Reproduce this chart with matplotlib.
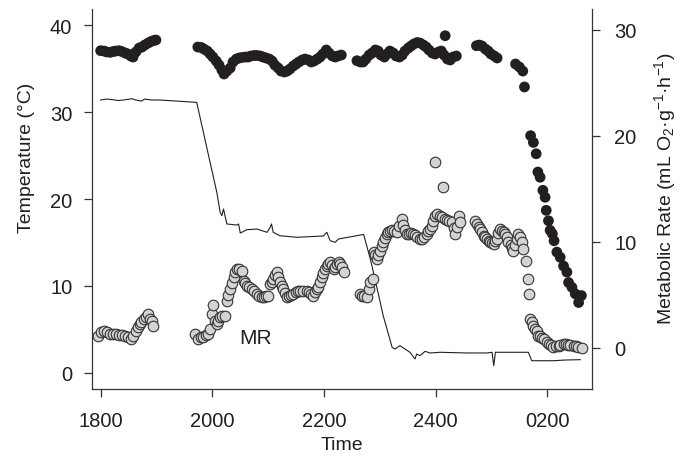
import matplotlib
matplotlib.use('Agg')
import matplotlib.pyplot as plt

plt.rcParams['font.family'] = ['Liberation Sans', 'DejaVu Sans']
plt.rcParams['mathtext.fontset'] = 'custom'
plt.rcParams['mathtext.rm'] = 'Liberation Sans'
plt.rcParams['mathtext.it'] = 'Liberation Sans:italic'

# Time in hours after midnight of the first day (26 = 0200 next day)
time_ticks = [18, 20, 22, 24, 26]
time_labels = ['1800', '2000', '2200', '2400', '0200']

# Ambient temperature (line, left axis)
ta_time = [18.00, 18.11, 18.23, 18.31, 18.41, 18.49, 18.56, 18.63, 18.73, 18.79,
           18.91, 19.06, 19.72, 20.08, 20.14, 20.17, 20.20, 20.26, 20.44, 20.47,
           20.50, 20.62, 20.80, 20.89, 20.98, 21.03, 21.06, 21.09, 21.21, 21.51,
           21.99, 22.05, 22.11, 22.20, 22.26, 22.65, 22.71, 22.83, 22.98, 23.06,
           23.22, 23.27, 23.36, 23.54, 23.63, 23.66, 23.72, 23.81, 23.90, 24.08,
           24.56, 24.92, 25.01, 25.04, 25.07, 25.66, 25.72, 26.11, 26.32, 26.59]
ta_temp = [31.38, 31.49, 31.41, 31.32, 31.38, 31.46, 31.53, 31.38, 31.26, 31.49,
           31.38, 31.38, 31.11, 20.77, 18.47, 18.08, 18.85, 17.13, 17.01, 17.13,
           16.09, 16.47, 16.55, 16.36, 16.17, 16.67, 17.13, 16.17, 15.78, 15.60,
           15.75, 16.17, 15.21, 15.02, 15.40, 15.86, 15.92, 13.10, 8.89, 6.59,
           2.95, 2.76, 3.14, 2.38, 1.61, 2.18, 1.99, 2.49, 2.30, 2.38,
           2.30, 2.30, 2.38, 0.84, 2.38, 2.38, 1.41, 1.41, 1.49, 1.53]

# Body temperature (black dots, left axis)
tb_time = [18.00, 18.06, 18.11, 18.17, 18.22, 18.27, 18.33, 18.38, 18.44, 18.49,
           18.54, 18.58, 18.63, 18.69, 18.74, 18.79, 18.85, 18.90, 18.95, 18.99,
           19.74, 19.80, 19.85, 19.91, 19.96, 20.01, 20.07, 20.12, 20.17, 20.21,
           20.26, 20.32, 20.37, 20.43, 20.48, 20.53, 20.59, 20.64, 20.69, 20.75,
           20.80, 20.86, 20.91, 20.96, 21.02, 21.07, 21.12, 21.18, 21.23, 21.29,
           21.34, 21.39, 21.45, 21.50, 21.55, 21.61, 21.66, 21.72, 21.77, 21.82,
           21.88, 21.93, 21.98, 22.04, 22.09, 22.15, 22.20, 22.25, 22.31,
           22.59, 22.65, 22.70, 22.75, 22.81, 22.86, 22.92, 22.97, 23.02, 23.08,
           23.13, 23.18, 23.24, 23.29, 23.35, 23.40, 23.45, 23.51, 23.56, 23.61,
           23.67, 23.72, 23.78, 23.83, 23.88, 23.94, 23.99, 24.05, 24.10, 24.15,
           24.21, 24.26, 24.31, 24.37, 24.17,
           24.73, 24.78, 24.83, 24.89, 24.94, 24.99, 25.05, 25.10,
           25.43, 25.50, 25.56, 25.59,
           25.70, 25.75, 25.80, 25.83, 25.87, 25.92, 25.96, 25.98, 26.02, 26.05,
           26.09, 26.12, 26.17, 26.23, 26.29, 26.35, 26.38, 26.44, 26.50, 26.56,
           26.61]
tb_temp = [37.05, 37.01, 36.90, 36.86, 36.95, 37.01, 37.05, 36.95, 36.78, 36.67,
           36.44, 36.32, 36.90, 37.36, 37.47, 37.70, 37.93, 38.10, 38.22, 38.28,
           37.47, 37.42, 37.24, 37.01, 36.67, 36.32, 35.86, 35.40, 34.83, 34.37,
           34.71, 35.06, 35.75, 36.09, 36.21, 36.27, 36.32, 36.32, 36.44, 36.50,
           36.50, 36.44, 36.32, 36.21, 36.09, 35.86, 35.40, 35.06, 34.71, 34.60,
           34.71, 34.94, 35.29, 35.52, 35.75, 35.98, 36.09, 35.98, 35.75, 35.86,
           36.09, 36.32, 36.67, 37.13, 36.78, 36.44, 36.32, 36.44, 36.55,
           35.90, 35.75, 35.75, 36.09, 36.55, 36.78, 37.13, 37.01, 36.55, 36.32,
           36.67, 37.01, 36.78, 36.44, 36.32, 36.55, 37.01, 37.36, 37.59, 37.82,
           37.99, 37.93, 37.70, 37.47, 37.13, 36.78, 36.67, 36.90, 37.01, 36.55,
           36.09, 35.98, 36.32, 36.44, 38.77,
           37.62, 37.70, 37.59, 37.24, 37.01, 36.67, 36.44, 36.21,
           35.52, 35.17, 34.71, 32.88,
           27.28, 26.50, 25.20, 23.10, 22.50, 21.00, 20.20, 18.70, 17.50, 16.40,
           16.00, 15.20, 13.90, 13.30, 12.30, 11.60, 10.40, 9.85, 9.10, 8.10,
           8.90]

# Metabolic rate (grey dots, right axis)
mr_time = [17.96, 18.01, 18.06, 18.11, 18.17, 18.22, 18.27, 18.33, 18.38, 18.44,
           18.49, 18.54, 18.58, 18.63, 18.67, 18.70, 18.73, 18.78, 18.82, 18.85,
           18.88, 18.92, 18.94,
           19.69, 19.75, 19.80, 19.84, 19.89, 19.93, 19.96, 19.99, 20.02, 20.05,
           20.08, 20.10, 20.14, 20.17, 20.23, 20.26, 20.28, 20.32, 20.35, 20.38,
           20.41, 20.44, 20.48, 20.53, 20.56, 20.59, 20.62, 20.66, 20.71, 20.75,
           20.80, 20.84, 20.89, 20.93, 20.96, 21.00, 21.03, 21.06, 21.09, 21.12,
           21.15, 21.18, 21.21, 21.24, 21.27, 21.30, 21.33, 21.37, 21.41, 21.45,
           21.50, 21.54, 21.57, 21.63, 21.69, 21.73, 21.77, 21.81, 21.84, 21.87,
           21.90, 21.93, 21.96, 21.99, 22.02, 22.05, 22.08, 22.11, 22.14, 22.17,
           22.20, 22.23, 22.26, 22.29, 22.32, 22.35,
           22.65, 22.68, 22.72, 22.77, 22.80, 22.83, 22.87, 22.89, 22.92, 22.95,
           22.97, 23.01, 23.04, 23.06, 23.09, 23.13, 23.15, 23.18, 23.22, 23.26,
           23.30, 23.35, 23.39, 23.41, 23.45, 23.48, 23.52, 23.56, 23.60, 23.63,
           23.67, 23.72, 23.76, 23.79, 23.84, 23.87, 23.90, 23.93, 23.96, 23.99,
           24.03, 24.08, 24.12, 24.17, 24.21, 24.24, 24.29, 24.32, 24.35, 24.38,
           24.41, 24.44, 23.99, 24.14,
           24.71, 24.74, 24.77, 24.80, 24.83, 24.86, 24.89, 24.92, 24.95, 24.98,
           25.01, 25.04, 25.07, 25.10, 25.12, 25.16, 25.19, 25.22, 25.25, 25.28,
           25.30, 25.34, 25.37, 25.39, 25.42, 25.46, 25.48, 25.51, 25.54, 25.57,
           25.62, 25.65, 25.68, 25.69, 25.72, 25.75, 25.78, 25.81, 25.84, 25.87,
           25.91, 25.94, 25.99, 26.03, 26.07, 26.11, 26.16, 26.20, 26.23, 26.29,
           26.34, 26.37, 26.41, 26.47, 26.52, 26.55, 26.62]
mr_rate = [1.13, 1.48, 1.60, 1.48, 1.29, 1.25, 1.25, 1.20, 1.20, 1.10,
           0.96, 0.82, 1.13, 1.58, 1.95, 2.24, 2.40, 2.71, 2.87, 3.18,
           2.71, 2.52, 2.08,
           1.29, 0.82, 1.01, 0.98, 1.20, 1.29, 1.76, 3.18, 4.03, 2.55,
           2.24, 2.52, 2.87, 2.99, 3.02, 4.43, 4.97, 5.54, 6.10, 6.67,
           7.11, 7.42, 7.42, 7.26, 6.32, 6.10, 5.85, 5.68, 5.54, 5.35,
           5.07, 4.92, 4.75, 4.78, 4.83, 4.91, 6.01, 6.20, 6.48, 6.86,
           7.17, 6.67, 6.17, 5.82, 5.54, 5.16, 4.75, 4.88, 4.97, 5.07,
           5.21, 5.30, 5.38, 5.38, 5.38, 5.25, 5.07, 4.91, 5.25, 5.54,
           5.70, 6.20, 6.64, 7.05, 7.42, 7.71, 7.90, 8.08, 7.80, 7.42,
           7.61, 7.90, 8.06, 7.90, 7.61, 7.11,
           5.07, 4.92, 4.83, 4.75, 5.54, 6.17, 6.48, 9.00, 8.75, 8.37,
           8.75, 9.15, 9.55, 9.94, 10.35, 10.73, 10.92, 11.04, 11.06, 10.96,
           10.89, 11.48, 12.14, 11.58, 11.10, 10.73, 10.73, 10.82, 10.73, 10.63,
           10.44, 10.25, 10.29, 10.44, 10.73, 11.01, 11.20, 11.51, 11.95, 12.45,
           12.61, 12.45, 12.33, 12.14, 12.05, 11.95, 11.83, 11.29, 10.73, 11.39,
           12.45, 11.83, 17.49, 15.13,
           11.98, 11.67, 11.43, 11.20, 10.87, 10.57, 10.40, 10.25, 10.09, 9.97,
           9.88, 9.78, 10.02, 10.25, 10.82, 11.20, 11.01, 10.87, 10.73, 10.40,
           9.94, 9.64, 9.41, 9.15, 9.69, 10.25, 10.73, 10.44, 9.94, 9.31,
           8.21, 6.48, 5.07, 2.71, 2.38, 2.08, 1.76, 1.53, 1.13, 1.06,
           0.92, 0.77, 0.51, 0.35, 0.21, 0.04, 0.11, 0.16, 0.25, 0.35,
           0.30, 0.25, 0.21, 0.19, 0.11, 0.07, -0.03]

ink = '#231f20'

fig = plt.figure(figsize=(6.83, 4.64), dpi=100)
ax = fig.add_axes([0.1343, 0.1595, 0.7325, 0.8189])
ax2 = ax.twinx()

ax.plot(ta_time, ta_temp, color=ink, linewidth=0.8, zorder=2)
ax.scatter(tb_time, tb_temp, s=60, color=ink, edgecolors='none', zorder=3)
ax2.scatter(mr_time, mr_rate, s=58, facecolor='#d3d3d3', edgecolors='#333333',
            linewidths=0.8, zorder=3)
ax2.text(20.77, 0.92, 'MR', fontsize=15, color=ink, ha='center', va='center')

ax.set_xlim(17.84, 26.80)
ax.set_ylim(-1.84, 41.84)
ax2.set_ylim(-3.9, 31.95)
ax.set_xticks(time_ticks)
ax.set_xticklabels(time_labels)
ax.set_yticks([0, 10, 20, 30, 40])
ax2.set_yticks([0, 10, 20, 30])

for a in (ax, ax2):
    a.spines['top'].set_visible(False)
    for s in a.spines.values():
        s.set_linewidth(0.9)
        s.set_color('#333333')
    a.tick_params(direction='out', length=6, width=0.9, color='#333333',
                  labelsize=14.5, labelcolor=ink, pad=8)
ax.tick_params(axis='x', pad=10)
ax2.tick_params(axis='y', pad=10)
ax.spines['right'].set_visible(False)
ax2.spines['left'].set_visible(False)
ax2.spines['bottom'].set_visible(False)

ax.set_xlabel('Time', fontsize=14, color=ink)
ax.xaxis.set_label_coords(0.5, -0.125)
ax.set_ylabel('Temperature (°C)', fontsize=14, color=ink)
ax.yaxis.set_label_coords(-0.113, 0.61)
ax2.set_ylabel('Metabolic Rate (mL O$_2$·g$^{-1}$·h$^{-1}$)', fontsize=14, color=ink)
ax2.yaxis.set_label_coords(1.12, 0.53)

fig.savefig('out.png', dpi=100)
